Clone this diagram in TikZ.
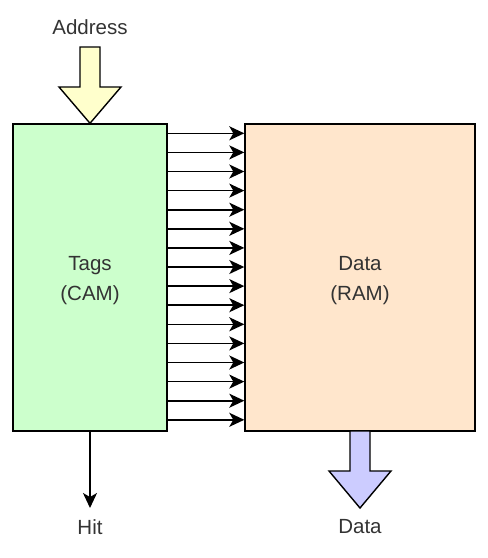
\documentclass[tikz,border=0pt]{standalone}
\usepackage{fontspec}
\setmainfont{Liberation Sans}
\usetikzlibrary{arrows.meta, positioning}
\definecolor{camgreen}{HTML}{CCFFCC}
\definecolor{rampeach}{HTML}{FFE6CC}
\definecolor{addryellow}{HTML}{FFFFCC}
\definecolor{datablue}{HTML}{CCCCFF}
\definecolor{txtgray}{HTML}{333333}

\begin{document}
\begin{tikzpicture}[x=1pt,y=-1pt,line width=1.4pt,>={Stealth[length=15pt,width=14pt,inset=4pt]}]
\tikzset{block/.style={draw, rectangle, minimum height=307pt, inner sep=0pt, align=center, text=txtgray, font=\fontsize{20.5}{30}\selectfont},
  lbl/.style={text=txtgray, font=\fontsize{20.5}{24}\selectfont},
  fatarrow/.style={draw, line join=miter}}
\useasboundingbox (0,0) rectangle (488,558);
\node[block, fill=camgreen, minimum width=154pt] (cam) at (90,277.5) {};
\node[block, fill=rampeach, minimum width=230pt] (ram) at (360,277.5) {};
\node[lbl, align=center, font=\fontsize{20.5}{30}\selectfont] (camtxt) at (cam.center) [yshift=-3pt] {Tags\\(CAM)};
\node[lbl, align=center, font=\fontsize{20.5}{30}\selectfont] (ramtxt) at (ram.center) [yshift=-3pt] {Data\\(RAM)};
\node[lbl] (addr) at (90,27) {Address};
\node[lbl] (hit) at (90,527) {Hit};
\node[lbl] (dout) at (360,527) {Data};
\coordinate (hitend) at (90,508);
% address in, data out
\draw[fatarrow, fill=addryellow] (80,47) -- (100,47) -- (100,87) -- (121,87) -- (cam.north) -- (59,87) -- (80,87) -- cycle;
\draw[fatarrow, fill=datablue] (350,431) -- (370,431) -- (370,471) -- (391,471) -- (360,508) -- (329,471) -- (350,471) -- cycle;
% match lines
\foreach \i in {0,...,15}
  \draw[->, line width=1.6pt] (cam.east |- 0,{133.3+19.1*\i}) -- (ram.west |- 0,{133.3+19.1*\i});
\draw[->] (cam.south) -- (hitend);
\end{tikzpicture}
\end{document}
